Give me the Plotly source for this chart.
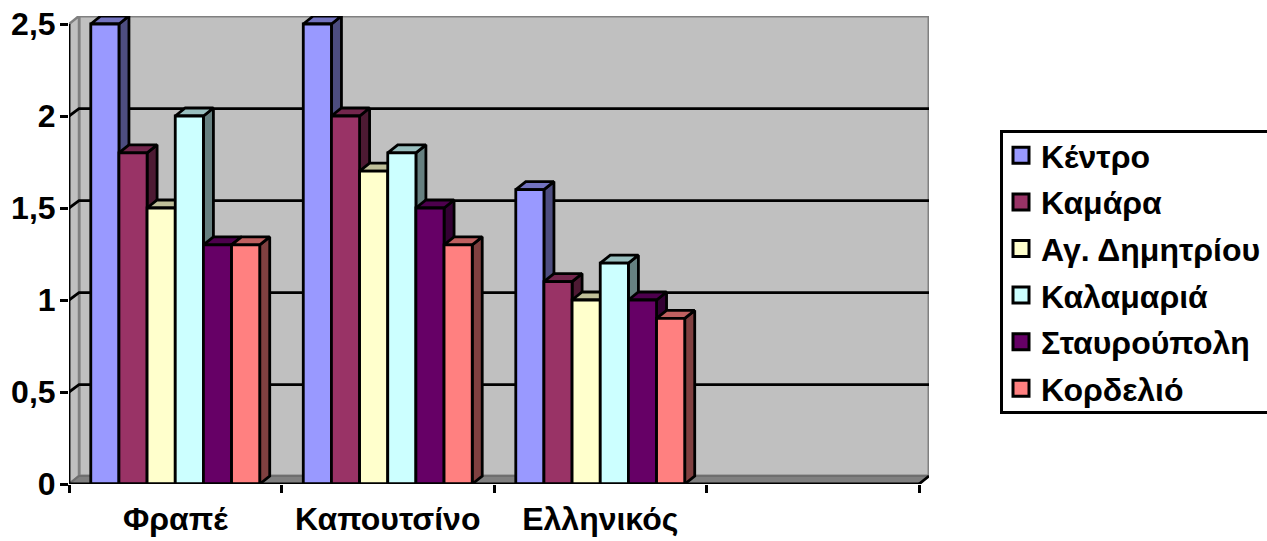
import plotly.graph_objects as go

categories = ["Φραπέ", "Καπουτσίνο", "Ελληνικός"]
series_names = ["Κέντρο", "Καμάρα", "Αγ. Δημητρίου", "Καλαμαριά", "Σταυρούπολη", "Κορδελιό"]
kentro = [2.5, 2.5, 1.6]
kamara = [1.8, 2.0, 1.1]
ag_dimitriou = [1.5, 1.7, 1.0]
kalamaria = [2.0, 1.8, 1.2]
stavroupoli = [1.3, 1.5, 1.0]
kordelio = [1.3, 1.3, 0.9]
series_values = [kentro, kamara, ag_dimitriou, kalamaria, stavroupoli, kordelio]
front_colors = ["#9999FF", "#993366", "#FFFFCC", "#CCFFFF", "#660066", "#FF8080"]
side_colors = ["#4D4D80", "#4D1A33", "#808066", "#668080", "#330033", "#804040"]
top_colors = ["#7373BF", "#73264D", "#BFBF99", "#99BFBF", "#4D004D", "#BF6060"]
y_ticks = [0, 0.5, 1, 1.5, 2, 2.5]
y_tick_text = ["0", "0,5", "1", "1,5", "2", "2,5"]

W, H = 1267, 541
X0, X_FRONT_END, X_BACK_END = 69, 919, 929
Y0, Y_FRONT_TOP, Y_BACK_TOP = 484, 24, 16
N_CATS = 4
PX_X = (X_FRONT_END - X0) / N_CATS
PX_Y = (Y0 - Y_FRONT_TOP) / 2.5
DX = (X_BACK_END - X_FRONT_END) / PX_X
DY = (Y_FRONT_TOP - Y_BACK_TOP) / PX_Y
GRID_DY = 7.3 / PX_Y
GAP = 0.205
BAR_W = (1 - GAP) / 6
LW = 2.8
FONT = dict(family="Liberation Sans, Arial, sans-serif", size=32, color="black")

fig = go.Figure()


def poly(xs, ys, fill, line="black", width=LW, z=0):
    fig.add_trace(go.Scatter(
        x=xs, y=ys, mode="lines", fill="toself", fillcolor=fill,
        line=dict(color=line, width=width), hoverinfo="skip",
        showlegend=False, zorder=z, cliponaxis=False))


def seg(xs, ys, color="black", width=LW, z=0):
    fig.add_trace(go.Scatter(
        x=xs, y=ys, mode="lines", line=dict(color=color, width=width),
        hoverinfo="skip", showlegend=False, zorder=z, cliponaxis=False))


YMAX = 2.5
# walls and floor
poly([DX, N_CATS + DX, N_CATS + DX, DX, DX], [DY, DY, YMAX + DY, YMAX + DY, DY], "#C0C0C0", "#808080", 3, 0)
poly([0, DX, DX, 0, 0], [0, DY, YMAX + DY, YMAX, 0], "#C0C0C0", "#808080", 2.5, 0)
poly([0, DX, N_CATS + DX, N_CATS, 0], [0, DY, DY, 0, 0], "#808080", "#6E6E6E", 2, 0)
# gridlines
for t in y_ticks[1:-1]:
    seg([0, DX, N_CATS + DX], [t, t + GRID_DY, t + GRID_DY], z=1)
# bars, painted left to right so each front hides its neighbour's side
for i, (name, vals) in enumerate(zip(series_names, series_values)):
    base = 2 + 3 * i
    for c, v in enumerate(vals):
        left = c + GAP / 2 + i * BAR_W
        right = left + BAR_W
        poly([right, right + DX, right + DX, right, right],
             [0, DY, v + DY, v, 0], side_colors[i], z=base)
        poly([left, right, right + DX, left + DX, left],
             [v, v, v + DY, v + DY, v], top_colors[i], z=base)
    fig.add_trace(go.Bar(
        x=[c + 0.5 for c in range(len(vals))], y=vals, name=name, zorder=base + 1,
        offset=-0.5 + GAP / 2 + i * BAR_W, width=BAR_W,
        marker=dict(color=front_colors[i], line=dict(color="black", width=LW)),
        showlegend=False))
    # legend entry
    fig.add_trace(go.Scatter(
        x=[None], y=[None], mode="markers", name=name, legendgroup=name,
        marker=dict(symbol="square", size=16, color=front_colors[i],
                    line=dict(color="black", width=3)),
        showlegend=True))
# axis lines on the front plane
top_z = 40
seg([0, 0], [0, YMAX], z=top_z)
seg([0, N_CATS], [0, 0], z=top_z)
seg([N_CATS, N_CATS + DX], [0, DY], z=top_z)

fig.update_layout(
    width=W, height=H, margin=dict(l=0, r=0, t=0, b=0, autoexpand=False),
    paper_bgcolor="white", plot_bgcolor="rgba(0,0,0,0)",
    font=dict(family=FONT["family"], size=FONT["size"], color="black"),
    barmode="overlay", hovermode=False,
    xaxis=dict(
        domain=[X0 / W, X_BACK_END / W], range=[0, N_CATS + DX],
        tickmode="array", tickvals=[c + 0.5 for c in range(len(categories))],
        ticktext=[f"<b>{c}</b>" for c in categories], ticks="", showgrid=False,
        showline=False, zeroline=False, ticklabelstandoff=13, tickfont=FONT,
        minor=dict(tickmode="array", tickvals=list(range(N_CATS + 1)), ticks="outside",
                   ticklen=8, tickwidth=LW, tickcolor="black", showgrid=False)),
    yaxis=dict(
        domain=[(H - Y0) / H, (H - Y_BACK_TOP) / H], range=[0, YMAX + DY],
        tickmode="array", tickvals=y_ticks,
        ticktext=[f"<b>{t}</b>" for t in y_tick_text], ticks="outside", ticklen=8,
        tickwidth=LW, tickcolor="black", showgrid=False, showline=False,
        zeroline=False, tickfont=FONT, ticklabelstandoff=-2),
    legend=dict(
        x=1004 / W, y=1 - 128 / H, xanchor="left", yanchor="top",
        borderwidth=0, bgcolor="rgba(0,0,0,0)",
        font=dict(family=FONT["family"], size=FONT["size"], color="black", weight="bold"),
        tracegroupgap=2, itemsizing="trace", itemwidth=30, indentation=-3),
    shapes=[dict(type="rect", xref="paper", yref="paper", layer="below",
                 x0=1001.5 / W, x1=1275 / W, y0=1 - 131.5 / H, y1=1 - 412.5 / H,
                 line=dict(color="black", width=3), fillcolor="white")],
)

fig.write_html("out.html", post_script="document.body.style.margin='0';",
               config={"displayModeBar": False})
